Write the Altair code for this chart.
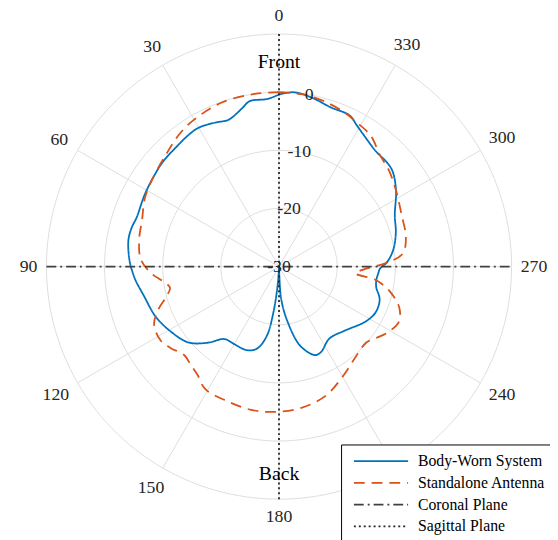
import altair as alt
import numpy as np
import pandas as pd

# ---------------- data ----------------
blue_theta = [0, 4, 10, 13, 16, 19, 24, 30, 34, 41, 48, 55, 62, 71, 75, 80, 88, 93, 96, 102,
              112, 121, 130, 137, 143, 150, 159, 165, 170, 173, 176, 178, 180, 182, 184, 189,
              195, 202, 206, 215, 225, 238, 245, 252, 258, 262, 266, 269, 272, 278, 286, 294,
              303, 310, 314, 320, 326, 331, 335, 342, 349, 355, 360]
blue_db = [-0.4, -1.1, -1.1, -2.0, -2.8, -3.3, -2.9, -2.4, -2.5, -2.9, -3.1, -3.5, -3.8, -4.1,
           -3.8, -3.7, -4.3, -4.9, -5.3, -6.2, -7.1, -8.3, -9.7, -12.1, -14.4, -14.6, -14.6,
           -15.4, -17.9, -22.0, -27.0, -29.5, -30.0, -29.0, -24.3, -20.3, -15.9, -13.6, -13.6,
           -14.9, -14.3, -12.3, -11.6, -11.8, -12.9, -13.1, -12.9, -12.6, -11.5, -10.2, -9.1,
           -8.2, -6.0, -4.5, -4.2, -4.1, -3.3, -2.3, -1.3, -1.2, -0.4, 0.1, -0.4]

orange_theta = [0, 8, 19, 30, 37, 45, 55, 63, 71, 79, 87, 93, 97, 101, 105, 110, 115, 122, 127,
                133, 138, 143, 149, 159, 169, 178, 189, 200, 211, 221, 229, 234, 238, 245, 251,
                257, 262, 265, 268, 272, 276, 283, 293, 303, 311, 318, 325, 332, 337, 345, 352, 360]
orange_db = [0.0, 0.0, -0.1, -0.8, -1.5, -2.6, -3.5, -4.1, -5.1, -5.5, -6.2, -8.0, -9.8, -10.9,
             -9.9, -7.8, -6.3, -6.0, -6.7, -7.7, -7.3, -6.7, -5.4, -5.2, -4.9, -5.0, -5.4, -6.4,
             -8.3, -9.7, -10.1, -9.2, -8.3, -7.3, -8.1, -10.3, -13.1, -16.8, -15.5, -11.5, -8.6,
             -7.6, -7.1, -6.0, -4.9, -4.1, -2.5, -1.8, -1.2, -0.5, -0.1, 0.0]

coronal_theta = [90, 270]
coronal_db = [10, 10]
sagittal_theta = [0, 180]
sagittal_db = [10, 10]

series_names = ["Body-Worn System", "Standalone Antenna", "Coronal Plane", "Sagittal Plane"]
series_colors = ["#0072BD", "#D95319", "#404040", "#262626"]
series_dash = [[1, 0], [11, 7], [10, 4, 2, 4], [2, 3]]
series_width = [1.8, 1.8, 1.5, 1.5]

r_tick_values = [-30, -20, -10, 0]
ring_levels = [-20, -10, 0, 10]
theta_ticks = list(range(0, 360, 30))
marker_labels = ["Front", "Back"]
marker_theta = [0, 180]
marker_db = [5.2, 5.6]

R_MIN, R_MAX = -30, 10
SPAN = R_MAX - R_MIN          # 40 units from centre to outer ring
PX_PER_UNIT = 5.9             # 236 px outer radius
FONT = "Liberation Serif"

# ---------------- tables ----------------
rows = []
for name, th, db in zip(series_names,
                        [blue_theta, orange_theta, coronal_theta, sagittal_theta],
                        [blue_db, orange_db, coronal_db, sagittal_db]):
    for i, (t, v) in enumerate(zip(th, db)):
        rows.append({"series": name, "theta": t, "db": v, "order": i})
curves = pd.DataFrame(rows)

ring_rows = []
for lev in ring_levels:
    for t in range(0, 362, 2):
        ring_rows.append({"ring": lev, "theta": t, "db": lev})
rings = pd.DataFrame(ring_rows)

spokes = pd.DataFrame({"theta": theta_ticks, "db": [R_MAX] * len(theta_ticks)})
angle_labels = pd.DataFrame({"theta": theta_ticks, "label": [str(t) for t in theta_ticks]})
r_labels = pd.DataFrame({"theta": [350] * len(r_tick_values), "db": r_tick_values,
                         "label": [str(v) for v in r_tick_values]})
markers = pd.DataFrame({"theta": marker_theta, "db": marker_db, "label": marker_labels})

px = f"-(datum.db - ({R_MIN})) * sin(datum.theta * PI / 180)"
py = f"(datum.db - ({R_MIN})) * cos(datum.theta * PI / 180)"

xs = alt.Scale(domain=[-SPAN, SPAN], nice=False, zero=False)
ys = alt.Scale(domain=[-SPAN, SPAN], nice=False, zero=False)
X = alt.X("px:Q", scale=xs, axis=None)
Y = alt.Y("py:Q", scale=ys, axis=None)

ring_layer = alt.Chart(rings).transform_calculate(px=px, py=py).mark_line(
    color="#dddddd", strokeWidth=1
).encode(x=X, y=Y, detail="ring:N", order="theta:Q")

spoke_layer = alt.Chart(spokes).transform_calculate(
    px=px, py=py, zx="0", zy="0"
).mark_rule(color="#dddddd", strokeWidth=1).encode(
    x=alt.X("zx:Q", scale=xs, axis=None), y=alt.Y("zy:Q", scale=ys, axis=None),
    x2="px:Q", y2="py:Q")

leg = alt.Legend(
    title=None, orient="none", legendX=299, legendY=416.5,
    symbolType="stroke", symbolSize=3025, symbolStrokeWidth=1.5,
    labelFont=FONT, labelFontSize=16, labelColor="black", labelLimit=400,
    labelExpr="datum.label + '\u00a0\u00a0\u00a0\u00a0\u00a0\u00a0\u00a0\u00a0'",
    padding=6, symbolOffset=6, labelOffset=9, clipHeight=22, rowPadding=0,
    strokeColor="black", fillColor="white", cornerRadius=0,
)

curve_layer = alt.Chart(curves).transform_calculate(px=px, py=py).mark_line(
    interpolate="catmull-rom"
).encode(
    x=X, y=Y,
    color=alt.Color("series:N", scale=alt.Scale(domain=series_names, range=series_colors),
                    legend=leg),
    strokeDash=alt.StrokeDash("series:N", scale=alt.Scale(domain=series_names, range=series_dash),
                              legend=leg),
    strokeWidth=alt.StrokeWidth("series:N", scale=alt.Scale(domain=series_names, range=series_width),
                                legend=None),
    order="order:Q",
)

angle_layer = alt.Chart(angle_labels).transform_calculate(
    rpx=f"245 + abs(sin(datum.theta * PI / 180)) * length(datum.label) * 4.6 + abs(cos(datum.theta * PI / 180)) * 9",
).transform_calculate(
    r=f"datum.rpx / {PX_PER_UNIT}"
).transform_calculate(
    px="-datum.r * sin(datum.theta * PI / 180)",
    py="datum.r * cos(datum.theta * PI / 180)",
).mark_text(font=FONT, fontSize=18, color="#262626", align="center", baseline="middle").encode(
    x=X, y=Y, text="label:N")

r_layer = alt.Chart(r_labels).transform_calculate(px=px, py=py).mark_text(
    font=FONT, fontSize=18, color="#262626", align="center", baseline="middle"
).encode(x=X, y=Y, text="label:N")

marker_layer = alt.Chart(markers).transform_calculate(px=px, py=py).mark_text(
    font=FONT, fontSize=20, color="black", align="center", baseline="middle"
).encode(x=X, y=Y, text="label:N")

chart = alt.layer(
    ring_layer, spoke_layer, curve_layer, angle_layer, r_layer, marker_layer
).properties(
    width=472, height=472,
    padding={"left": 39, "top": 22.5, "right": 39, "bottom": 37.5},
    autosize=alt.AutoSizeParams(type="none"),
).configure_view(stroke=None).configure_legend(
    labelFont=FONT, labelFontSize=16, labelColor="black"
).configure_text(font=FONT)

chart.save("out.html", embed_options={"renderer": "svg", "actions": False})
